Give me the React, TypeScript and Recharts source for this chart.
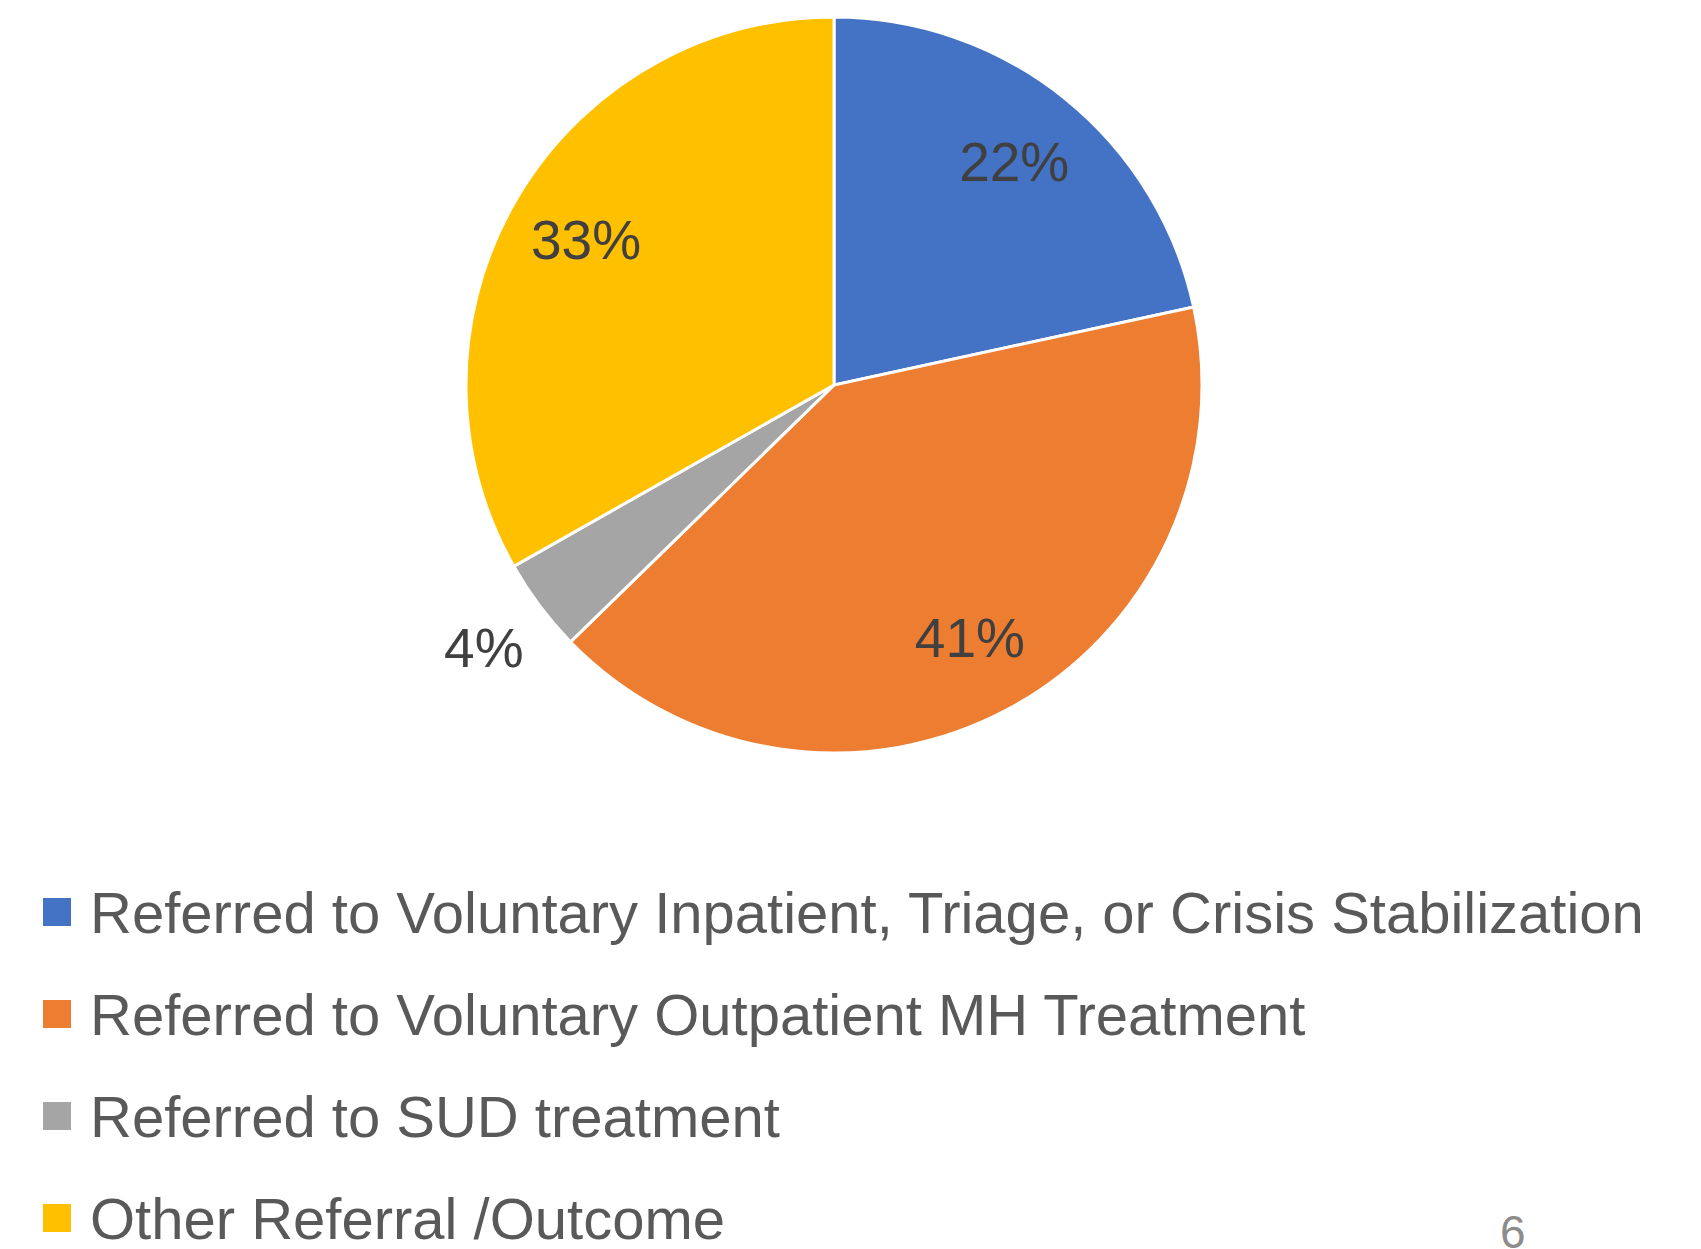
// Referral outcome pie chart
import { PieChart, Pie, Cell, Legend } from 'recharts'

const categories = [
    'Referred to Voluntary Inpatient, Triage, or Crisis Stabilization',
    'Referred to Voluntary Outpatient MH Treatment',
    'Referred to SUD treatment',
    'Other Referral /Outcome',
]
// share of cases (%); labels show them rounded
const shares = [21.6, 41.1, 4.1, 33.2]
const colors = ['#4472C4', '#ED7D31', '#A5A5A5', '#FFC000']
const pageNumber = '6'

const data = categories.map((name, i) => ({ name, value: shares[i] }))

const FONT = "'Liberation Sans Narrow', 'Liberation Sans', Arial, sans-serif"
const RAD = Math.PI / 180

const renderLabel = (props: any) => {
    const { cx, cy, midAngle, outerRadius, percent } = props
    const small = percent < 0.1
    const r = small ? outerRadius * 1.19 : outerRadius * 0.78
    const x = cx + r * Math.cos(-midAngle * RAD)
    const y = cy + r * Math.sin(-midAngle * RAD)
    return (
        <text
            x={x}
            y={y}
            fill="#404040"
            fontSize={55}
            fontFamily={FONT}
            textAnchor="middle"
            dominantBaseline="central"
        >
            {`${Math.round(percent * 100)}%`}
        </text>
    )
}

const renderLegend = () => (
    <div>
        {data.map((d, i) => (
            <div
                key={d.name}
                style={{ display: 'flex', alignItems: 'center', height: 102 }}
            >
                <span
                    style={{
                        display: 'inline-block',
                        width: 28,
                        height: 28,
                        background: colors[i],
                        marginRight: 19,
                    }}
                />
                <span
                    style={{
                        fontFamily: FONT,
                        fontSize: 58,
                        color: '#595959',
                        whiteSpace: 'nowrap',
                    }}
                >
                    {d.name}
                </span>
            </div>
        ))}
    </div>
)

export default function App() {
    return (
        <div
            style={{
                position: 'absolute',
                left: 0,
                top: 0,
                width: 1701,
                height: 1249,
                background: '#fff',
                overflow: 'hidden',
            }}
        >
            <PieChart width={1701} height={1249}>
                <Pie
                    data={data}
                    dataKey="value"
                    nameKey="name"
                    cx={829}
                    cy={380}
                    outerRadius={368}
                    startAngle={90}
                    endAngle={-270}
                    stroke="#fff"
                    strokeWidth={3}
                    label={renderLabel}
                    labelLine={false}
                    isAnimationActive={false}
                >
                    {data.map((d, i) => (
                        <Cell key={d.name} fill={colors[i]} />
                    ))}
                </Pie>
                <Legend
                    content={renderLegend}
                    wrapperStyle={{ position: 'absolute', left: 43, top: 861, width: 1650 }}
                />
            </PieChart>
            <div
                style={{
                    position: 'absolute',
                    left: 1500,
                    top: 1205,
                    fontFamily: FONT,
                    fontSize: 46,
                    color: '#8c8c8c',
                }}
            >
                {pageNumber}
            </div>
        </div>
    )
}
